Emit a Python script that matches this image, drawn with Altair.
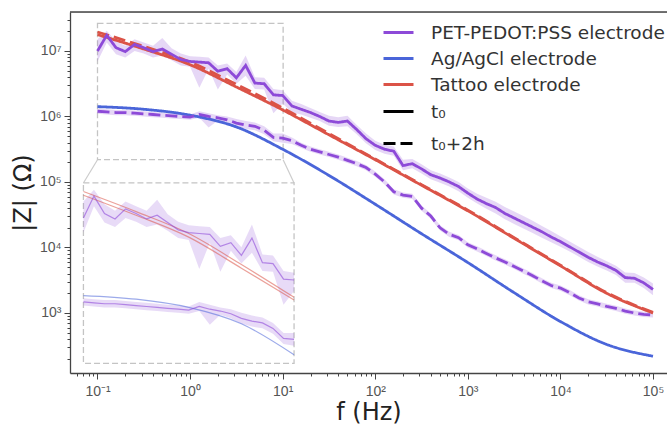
import altair as alt
import pandas as pd

# ---------------- data (log10 |Z|) ----------------
FREQ_HZ = [10 ** (k / 10) for k in range(-10, 51)]          # 10 points / decade, 0.1 Hz .. 100 kHz
SMOOTH_FREQ_HZ = [10 ** (k / 2) for k in range(-2, 11)]      # 0.1 Hz .. 100 kHz, half decades

PET_T0 = [7.00, 7.24, 7.05, 6.99, 7.10, 7.05, 6.99, 7.03, 6.95, 6.87,
          6.84, 6.83, 6.82, 6.69, 6.73, 6.59, 6.78, 6.51, 6.50, 6.33,
          6.32, 6.16, 6.11, 6.06, 6.00, 5.93, 5.91, 5.93, 5.80, 5.66,
          5.56, 5.50, 5.47, 5.25, 5.28, 5.20, 5.11, 5.06, 5.00, 4.93,
          4.83, 4.74, 4.67, 4.61, 4.52, 4.45, 4.38, 4.31, 4.24, 4.16,
          4.09, 4.01, 3.93, 3.85, 3.78, 3.72, 3.65, 3.54, 3.53, 3.46, 3.36]
PET_T0_LO = [6.84, 7.13, 6.95, 6.90, 7.00, 6.96, 6.90, 6.93, 6.86, 6.78,
             6.76, 6.44, 6.73, 6.41, 6.64, 6.50, 6.62, 6.42, 6.41, 6.05,
             6.20, 6.06, 6.03, 5.98, 5.93, 5.86, 5.84, 5.85, 5.73, 5.59,
             5.49, 5.43, 5.40, 5.18, 5.21, 5.13, 5.04, 4.99, 4.93, 4.86,
             4.76, 4.67, 4.59, 4.52, 4.43, 4.36, 4.29, 4.22, 4.15, 4.08,
             4.01, 3.94, 3.86, 3.78, 3.71, 3.65, 3.58, 3.46, 3.46, 3.38, 3.27]
PET_T0_HI = [7.18, 7.31, 7.15, 7.08, 7.18, 7.13, 7.08, 7.20, 7.04, 6.96,
             6.92, 6.91, 6.90, 6.78, 6.81, 6.68, 6.93, 6.60, 6.59, 6.42,
             6.40, 6.24, 6.19, 6.13, 6.07, 6.01, 5.99, 6.01, 5.87, 5.74,
             5.63, 5.57, 5.54, 5.34, 5.35, 5.27, 5.18, 5.13, 5.07, 5.00,
             4.90, 4.82, 4.76, 4.70, 4.62, 4.55, 4.48, 4.41, 4.33, 4.25,
             4.17, 4.09, 4.01, 3.93, 3.86, 3.79, 3.72, 3.62, 3.61, 3.54, 3.45]

PET_2H = [6.08, 6.07, 6.06, 6.06, 6.05, 6.04, 6.03, 6.02, 6.01, 6.00,
          5.99, 6.03, 6.00, 5.98, 5.95, 5.90, 5.87, 5.85, 5.79, 5.68,
          5.67, 5.63, 5.56, 5.50, 5.46, 5.42, 5.38, 5.33, 5.28, 5.22,
          5.12, 5.00, 4.85, 4.80, 4.78, 4.60, 4.48, 4.30, 4.20, 4.15,
          4.04, 3.98, 3.91, 3.84, 3.78, 3.71, 3.64, 3.57, 3.49, 3.42,
          3.38, 3.31, 3.23, 3.17, 3.14, 3.10, 3.07, 3.03, 3.00, 2.98, 2.97]
PET_2H_LO = [6.04, 6.03, 6.02, 6.02, 6.01, 6.00, 5.99, 5.98, 5.97, 5.96,
             5.95, 5.98, 5.83, 5.94, 5.90, 5.84, 5.81, 5.79, 5.73, 5.62,
             5.60, 5.58, 5.52, 5.46, 5.42, 5.38, 5.34, 5.29, 5.24, 5.18,
             5.08, 4.96, 4.81, 4.76, 4.74, 4.56, 4.44, 4.26, 4.16, 4.11,
             4.00, 3.94, 3.87, 3.80, 3.74, 3.67, 3.60, 3.53, 3.45, 3.38,
             3.34, 3.27, 3.19, 3.13, 3.10, 3.06, 3.03, 2.99, 2.96, 2.94, 2.93]
PET_2H_HI = [6.12, 6.11, 6.10, 6.10, 6.09, 6.08, 6.07, 6.06, 6.05, 6.04,
             6.03, 6.08, 6.05, 6.02, 6.00, 5.96, 5.93, 5.91, 5.85, 5.74,
             5.74, 5.68, 5.60, 5.54, 5.50, 5.46, 5.42, 5.37, 5.32, 5.26,
             5.16, 5.04, 4.89, 4.84, 4.82, 4.64, 4.52, 4.34, 4.24, 4.19,
             4.08, 4.02, 3.95, 3.88, 3.82, 3.75, 3.68, 3.61, 3.53, 3.46,
             3.42, 3.35, 3.27, 3.21, 3.18, 3.14, 3.11, 3.07, 3.04, 3.02, 3.01]

AGCL_T0 = [6.15, 6.11, 6.02, 5.84, 5.50, 5.10, 4.66, 4.21, 3.77, 3.31, 2.87, 2.52, 2.34]
TATTOO_T0 = [7.25, 7.03, 6.79, 6.45, 6.10, 5.72, 5.34, 4.95, 4.56, 4.14, 3.72, 3.30, 3.00]
TATTOO_2H = [7.29, 7.07, 6.83, 6.49, 6.13, 5.74, 5.35, 4.96, 4.57, 4.15, 3.73, 3.31, 3.01]

ELECTRODES = ["PET-PEDOT:PSS electrode", "Ag/AgCl electrode", "Tattoo electrode"]
TIMES = ["t\u2080", "t\u2080+2h"]
COLORS = ["#8d4ad8", "#4a65d9", "#db5347"]

X_MAJOR = [0.1, 1, 10, 100, 1000, 10000, 100000]
X_LABELS = ["10\u207b\u00b9", "10\u2070", "10\u00b9", "10\u00b2", "10\u00b3", "10\u2074", "10\u2075"]
Y_MAJOR = [1000, 10000, 100000, 1000000, 10000000]
Y_LABELS = ["10\u00b3", "10\u2074", "10\u2075", "10\u2076", "10\u2077"]

# ---------------- layout constants (data units) ----------------
X_DOMAIN = [10 ** -1.297, 10 ** 5.151]
Y_DOMAIN = [10 ** 2.084, 10 ** 7.595]
ZOOM_BOX = dict(x=0.1, x2=10 ** 1.005, y=10 ** 5.34, y2=10 ** 7.42)
INSET_BOX = dict(x=10 ** -1.152, x2=10 ** 1.123, y=10 ** 2.232, y2=10 ** 4.985)

W, H = 597, 361

# ---------------- tables ----------------
def pet_rows(vals, lo, hi, time):
    return [dict(f=f, z=10 ** v, lo=10 ** l, hi=10 ** h,
                 electrode=ELECTRODES[0], time=time)
            for f, v, l, h in zip(FREQ_HZ, vals, lo, hi)]

pet_df = pd.DataFrame(pet_rows(PET_T0, PET_T0_LO, PET_T0_HI, TIMES[0]) +
                      pet_rows(PET_2H, PET_2H_LO, PET_2H_HI, TIMES[1]))

smooth_rows = []
for name, time, vals in [(ELECTRODES[1], TIMES[0], AGCL_T0),
                         (ELECTRODES[2], TIMES[0], TATTOO_T0),
                         (ELECTRODES[2], TIMES[1], TATTOO_2H)]:
    for f, v in zip(SMOOTH_FREQ_HZ, vals):
        smooth_rows.append(dict(f=f, z=10 ** v, electrode=name, time=time))
smooth_df = pd.DataFrame(smooth_rows)

def tick_values(lo, hi):
    out = []
    for e in range(-3, 9):
        for k in range(1, 10):
            v = k * 10 ** e
            if lo <= v <= hi:
                out.append(v)
    return out

x_vals = tick_values(X_DOMAIN[0], X_DOMAIN[1])
y_vals = tick_values(Y_DOMAIN[0], Y_DOMAIN[1])

def label_expr(major, labels):
    expr = "''"
    for v, lab in reversed(list(zip(major, labels))):
        expr = f"datum.value == {v} ? '{lab}' : ({expr})"
    return expr

def major_test(major):
    return "indexof([" + ",".join(str(v) for v in major) + "], datum.value) >= 0"

x_scale = alt.Scale(type="log", domain=X_DOMAIN, nice=False)
y_scale = alt.Scale(type="log", domain=Y_DOMAIN, nice=False)

x_axis = alt.Axis(values=x_vals, labelExpr=label_expr(X_MAJOR, X_LABELS),
                  tickSize={"condition": {"test": major_test(X_MAJOR), "value": 6}, "value": 3},
                  grid=False, title="f (Hz)", titleFontSize=24, titleFont="DejaVu Sans",
                  titleFontWeight="normal", titleColor="#222", titlePadding=2,
                  labelFontSize=14, labelFont="Liberation Sans", labelColor="#555",
                  labelPadding=5, labelOverlap=False, labelFlush=False,
                  domainColor="#444", tickColor="#444", domainWidth=1.3)
y_axis = alt.Axis(values=y_vals, labelExpr=label_expr(Y_MAJOR, Y_LABELS),
                  tickSize={"condition": {"test": major_test(Y_MAJOR), "value": 6}, "value": 3},
                  grid=False, title="|Z| (\u03a9)", titleFontSize=24, titleFont="DejaVu Sans",
                  titleFontWeight="normal", titleColor="#222", titlePadding=4,
                  labelFontSize=14, labelFont="Liberation Sans", labelColor="#555",
                  labelPadding=3, labelOverlap=False, labelFlush=False,
                  domainColor="#444", tickColor="#444", domainWidth=1.3)

X = alt.X("f:Q", scale=x_scale, axis=x_axis)
Y = alt.Y("z:Q", scale=y_scale, axis=y_axis)

color_enc = alt.Color("electrode:N", scale=alt.Scale(domain=ELECTRODES, range=COLORS),
                      legend=alt.Legend(title=None, orient="none", legendX=312, legendY=4,
                                        symbolType="stroke", symbolStrokeWidth=3,
                                        symbolSize=900, symbolOpacity=1, labelFontSize=18.5,
                                        labelFont="DejaVu Sans", labelColor="#333",
                                        labelOffset=16, rowPadding=-4, padding=0,
                                        labelLimit=500))
dash_enc = alt.StrokeDash("time:N", scale=alt.Scale(domain=TIMES, range=[[1, 0], [12, 5]]),
                          legend=alt.Legend(title=None, orient="none", legendX=312, legendY=83,
                                            symbolType="stroke", symbolStrokeWidth=3,
                                            symbolStrokeColor="black", symbolSize=900,
                                            symbolOpacity=1,
                                            labelFontSize=18.5, labelFont="DejaVu Sans",
                                            labelColor="#333", labelOffset=16,
                                            rowPadding=6, padding=0))

box_df = pd.DataFrame([ZOOM_BOX])
inset_df = pd.DataFrame([INSET_BOX])
conn_df = pd.DataFrame([
    dict(x=ZOOM_BOX["x"], y=ZOOM_BOX["y"], x2=INSET_BOX["x"], y2=INSET_BOX["y2"]),
    dict(x=ZOOM_BOX["x2"], y=ZOOM_BOX["y"], x2=INSET_BOX["x2"], y2=INSET_BOX["y2"]),
])

zoom_rect = alt.Chart(box_df).mark_rect(fill=None, stroke="#c4c4c4", strokeWidth=1.3,
                                        strokeDash=[6, 3]).encode(
    x=alt.X("x:Q", scale=x_scale), x2="x2:Q", y=alt.Y("y:Q", scale=y_scale), y2="y2:Q")
connectors = alt.Chart(conn_df).mark_rule(color="#cccccc", strokeWidth=1.2).encode(
    x=alt.X("x:Q", scale=x_scale), x2="x2:Q", y=alt.Y("y:Q", scale=y_scale), y2="y2:Q")

bands = alt.Chart(pet_df).mark_area(color=COLORS[0], opacity=0.22).encode(
    x=X, y=alt.Y("lo:Q", scale=y_scale), y2="hi:Q", detail="time:N")

smooth_lines = alt.Chart(smooth_df).mark_line(strokeWidth=2.8, interpolate="monotone").encode(
    x=X, y=Y, color=color_enc, strokeDash=dash_enc, detail="time:N")
pet_lines = alt.Chart(pet_df).mark_line(strokeWidth=2.8).encode(
    x=X, y=Y, color=color_enc, strokeDash=dash_enc, detail="time:N")

inset_box = alt.Chart(inset_df).mark_rect(fill="white", stroke="#c4c4c4", strokeWidth=1.3,
                                          strokeDash=[6, 3]).encode(
    x=alt.X("x:Q", scale=x_scale), x2="x2:Q", y=alt.Y("y:Q", scale=y_scale), y2="y2:Q")

# Inset = zoomed copy of the 0.1-10 Hz region, re-projected into the inset box
FX = "pow(10, -1.152 + (log(datum.f) / LN10 + 1) * 1.1375)"
def FZ(col):
    return f"pow(10, 2.232 + (log(datum.{col}) / LN10 - 5.407) * 1.3925)"

inset_bands = alt.Chart(pet_df).transform_filter("datum.f <= 10.001").transform_calculate(
    fi=FX, loi=FZ("lo"), hii=FZ("hi")).mark_area(color=COLORS[0], opacity=0.2).encode(
    x=alt.X("fi:Q", scale=x_scale), y=alt.Y("loi:Q", scale=y_scale), y2="hii:Q", detail="time:N")
inset_pet = alt.Chart(pet_df).transform_filter("datum.f <= 10.001").transform_calculate(
    fi=FX, zi=FZ("z")).mark_line(strokeWidth=1.2, opacity=0.6).encode(
    x=alt.X("fi:Q", scale=x_scale), y=alt.Y("zi:Q", scale=y_scale), color=color_enc, detail="time:N")
inset_smooth = alt.Chart(smooth_df).transform_filter("datum.f <= 10.001").transform_calculate(
    fi=FX, zi=FZ("z")).mark_line(strokeWidth=1.2, opacity=0.55, interpolate="monotone").encode(
    x=alt.X("fi:Q", scale=x_scale), y=alt.Y("zi:Q", scale=y_scale), color=color_enc, detail="time:N")

top_rule = alt.Chart(box_df).mark_rule(color="#444", strokeWidth=1.3).encode(
    x=alt.value(0), x2=alt.value(W), y=alt.value(0))

chart = alt.layer(
    zoom_rect, connectors, bands, smooth_lines, pet_lines,
    inset_box, inset_bands, inset_smooth, inset_pet, top_rule
).properties(
    width=W, height=H,
    autosize=alt.AutoSizeParams(type="none"),
    padding={"left": 70, "top": 12, "right": 0, "bottom": 57},
).configure_view(stroke=None).configure(background="white")

chart.save("out.html", embed_options={"renderer": "svg", "actions": False})
